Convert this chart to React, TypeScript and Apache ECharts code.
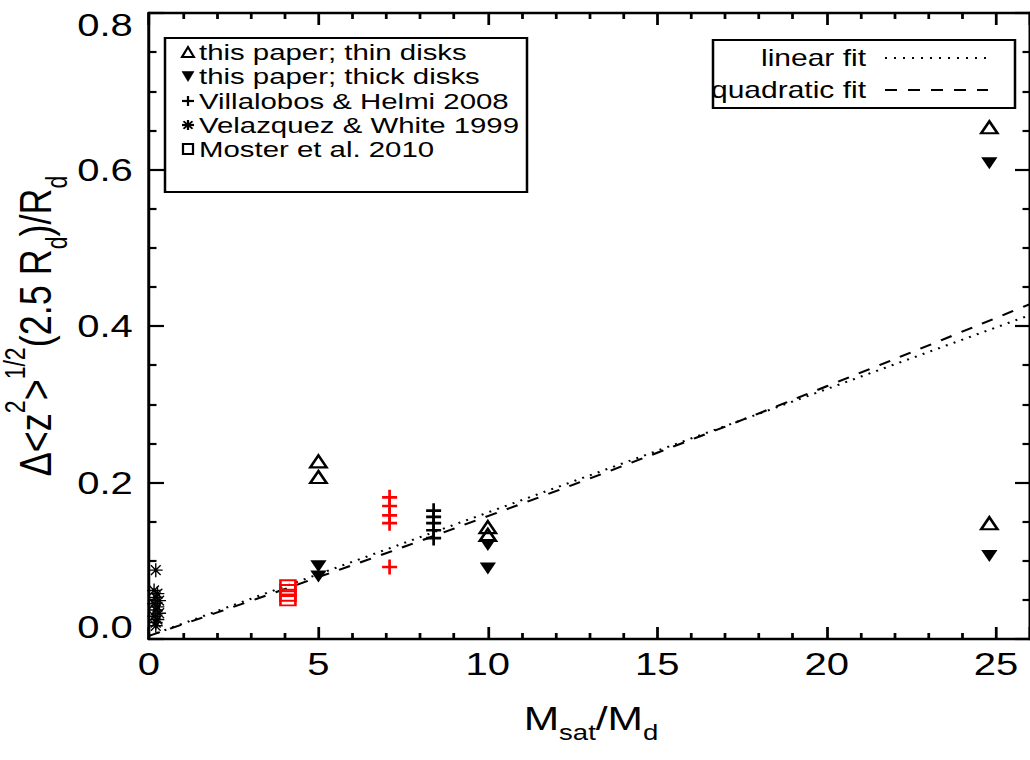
import React, { useEffect, useRef } from "react";
import * as echarts from "echarts";

// The reference picture is horizontally stretched; draw in an inner space and scale X.
const STRETCH = 1.25;
const CANVAS_W = 1030;
const CANVAS_H = 760;
const INNER_W = CANVAS_W / STRETCH;
const FONT = "'Liberation Sans', Arial, Helvetica, sans-serif";

// ---- data ----
const xTickValues = [0, 5, 10, 15, 20, 25];
const yTickValues = [0.0, 0.2, 0.4, 0.6, 0.8];

const thinDisksX = [5, 5, 10, 10, 24.8, 24.8];
const thinDisksY = [0.227, 0.207, 0.143, 0.133, 0.654, 0.148];

const thickDisksX = [5, 5, 10, 10, 24.8, 24.8];
const thickDisksY = [0.093, 0.08, 0.12, 0.09, 0.608, 0.106];

const villalobosRedX = [7.1, 7.1, 7.1, 7.1, 7.1];
const villalobosRedY = [0.181, 0.17, 0.158, 0.148, 0.092];

const villalobosBlackX = [8.4, 8.4, 8.4, 8.4, 8.4];
const villalobosBlackY = [0.164, 0.156, 0.148, 0.139, 0.129];

const velazquezX = [0.2, 0.15, 0.25, 0.2, 0.3, 0.15, 0.25, 0.2, 0.3, 0.15, 0.25, 0.2, 0.2];
const velazquezY = [0.088, 0.062, 0.058, 0.053, 0.049, 0.045, 0.041, 0.037, 0.033, 0.029, 0.025, 0.021, 0.017];

const mosterX = [4.1, 4.1, 4.1, 4.1];
const mosterY = [0.068, 0.062, 0.056, 0.05];

const linearFitX = [0, 26];
const linearFitY = [0.004, 0.414];

const quadFitX = [0, 5, 10, 15, 20, 26];
const quadFitY = [0.004, 0.079, 0.157, 0.238, 0.323, 0.428];

const pointLegend = [
  "this paper; thin disks",
  "this paper; thick disks",
  "Villalobos & Helmi 2008",
  "Velazquez & White 1999",
  "Moster et al. 2010",
];
const fitLegend = ["linear fit", "quadratic fit"];

const RED = "#ff0000";
const PLUS_PATH = "path://M0,4.1H10V5.9H0Z M4.1,0H5.9V10H4.1Z";
const STAR_PATH =
  "path://M0,9H20V11H0Z M9,0H11V20H9Z M3.64,2.22L17.78,16.36L16.36,17.78L2.22,3.64Z M17.78,3.64L3.64,17.78L2.22,16.36L16.36,2.22Z";

const zip = (xs: number[], ys: number[]) => xs.map((x, i) => [x, ys[i]]);

function legendSymbol(kind: number, cx: number, cy: number): any[] {
  const s = { stroke: "#000", lineWidth: 1.8 };
  const hw = 4.8;
  const hh = 5;
  switch (kind) {
    case 0:
      return [{ type: "polygon", shape: { points: [[cx - hw, cy + hh], [cx, cy - hh], [cx + hw, cy + hh]] }, style: { fill: "none", ...s } }];
    case 1:
      return [{ type: "polygon", shape: { points: [[cx - hw, cy - hh], [cx + hw, cy - hh], [cx, cy + hh]] }, style: { fill: "#000", stroke: "#000", lineWidth: 0.5 } }];
    case 2:
      return [
        { type: "line", shape: { x1: cx - hw, y1: cy, x2: cx + hw, y2: cy }, style: { ...s, lineWidth: 2.2 } },
        { type: "line", shape: { x1: cx, y1: cy - hh, x2: cx, y2: cy + hh }, style: s },
      ];
    case 3:
      return [
        { type: "line", shape: { x1: cx - hw, y1: cy, x2: cx + hw, y2: cy }, style: { ...s, lineWidth: 2.2 } },
        { type: "line", shape: { x1: cx, y1: cy - hh, x2: cx, y2: cy + hh }, style: s },
        { type: "line", shape: { x1: cx - hw * 0.75, y1: cy - hh * 0.75, x2: cx + hw * 0.75, y2: cy + hh * 0.75 }, style: s },
        { type: "line", shape: { x1: cx + hw * 0.75, y1: cy - hh * 0.75, x2: cx - hw * 0.75, y2: cy + hh * 0.75 }, style: s },
      ];
    default:
      return [{ type: "rect", shape: { x: cx - 4, y: cy - 5, width: 8, height: 10 }, style: { fill: "none", ...s } }];
  }
}

export default function App() {
  const ref = useRef<HTMLDivElement>(null);

  useEffect(() => {
    if (!ref.current) return;
    const chart = echarts.init(ref.current, null, { renderer: "svg" });

    const axisLineStyle = { color: "#000", width: 2.4 };
    const tickStyle = { color: "#000", width: 2.2 };

    const xAxisBase = {
      type: "value",
      min: 0,
      max: 26,
      interval: 5,
      axisLine: { show: true, onZero: false, lineStyle: axisLineStyle },
      axisTick: { show: true, inside: true, length: 12, lineStyle: tickStyle },
      minorTick: { show: true, splitNumber: 5, length: 6, lineStyle: tickStyle },
      splitLine: { show: false },
      minorSplitLine: { show: false },
    };
    const yAxisBase = {
      type: "value",
      min: 0,
      max: 0.8,
      interval: 0.2,
      axisLine: { show: true, onZero: false, lineStyle: axisLineStyle },
      axisTick: { show: true, inside: true, length: 12, lineStyle: tickStyle },
      minorTick: { show: true, splitNumber: 4, length: 6, lineStyle: tickStyle },
      splitLine: { show: false },
      minorSplitLine: { show: false },
    };

    const gridLeft = 149 / STRETCH;
    const gridRightEdge = 1034 / STRETCH;

    const graphic: any[] = [];
    // point legend box
    const b1x = 165 / STRETCH;
    const b1w = (527 - 165) / STRETCH;
    graphic.push({ type: "rect", shape: { x: b1x, y: 38, width: b1w, height: 154 }, style: { fill: "#fff", stroke: "#000", lineWidth: 2 }, z: 10 });
    const rows = [52, 76.5, 101, 125, 149];
    const legendFont = 21.5;
    pointLegend.forEach((label, i) => {
      legendSymbol(i, 188 / STRETCH, rows[i]).forEach((g) => graphic.push({ ...g, z: 11 }));
      graphic.push({
        type: "text",
        x: 199 / STRETCH,
        y: rows[i],
        scaleX: 23.5 / legendFont,
        z: 11,
        style: {
          text: label,
          fontSize: legendFont,
          fontFamily: FONT,
          fill: "#000",
          textAlign: "left",
          textVerticalAlign: "middle",
        },
      });
    });
    // fit legend box
    const b2x = 713 / STRETCH;
    const b2w = (1015 - 713) / STRETCH;
    graphic.push({ type: "rect", shape: { x: b2x, y: 40, width: b2w, height: 68 }, style: { fill: "#fff", stroke: "#000", lineWidth: 2 }, z: 10 });
    const fitRows = [58, 90];
    const fitDash = [[1.6, 5.6], [9.6, 8.8]];
    fitLegend.forEach((label, i) => {
      graphic.push({
        type: "text",
        x: 866 / STRETCH,
        y: fitRows[i],
        z: 11,
        style: {
          text: label,
          fontSize: 24,
          fontFamily: FONT,
          fill: "#000",
          textAlign: "right",
          textVerticalAlign: "middle",
        },
      });
      graphic.push({
        type: "line",
        z: 11,
        shape: { x1: 885 / STRETCH, y1: fitRows[i], x2: 988 / STRETCH, y2: fitRows[i] },
        style: { stroke: "#000", lineWidth: 2, lineDash: fitDash[i] },
      });
    });
    // axis titles
    graphic.push({
      type: "text",
      x: 36 / STRETCH,
      y: 326,
      rotation: Math.PI / 2,
      style: {
        text: "{m|\u0394<z}{sup|2}{m|>}{sup|1/2}{m|(2.5 R}{sub|d}{m|)/R}{sub|d}",
        textAlign: "center",
        textVerticalAlign: "middle",
        rich: {
          m: { fontSize: 36, fontFamily: FONT, fill: "#000", lineHeight: 56, verticalAlign: "middle" },
          sup: { fontSize: 23, fontFamily: FONT, fill: "#000", lineHeight: 24, verticalAlign: "top" },
          sub: { fontSize: 23, fontFamily: FONT, fill: "#000", lineHeight: 24, verticalAlign: "bottom" },
        },
      },
    });
    graphic.push({
      type: "text",
      x: 591 / STRETCH,
      y: 718,
      style: {
        text: "{m|M}{sub|sat}{m|/M}{sub|d}",
        textAlign: "center",
        textVerticalAlign: "middle",
        rich: {
          m: { fontSize: 34, fontFamily: FONT, fill: "#000", lineHeight: 50, verticalAlign: "middle" },
          sub: { fontSize: 22, fontFamily: FONT, fill: "#000", lineHeight: 24, verticalAlign: "bottom" },
        },
      },
    });

    chart.setOption({
      animation: false,
      backgroundColor: "#fff",
      grid: { left: gridLeft, right: INNER_W - gridRightEdge, top: 13, bottom: CANVAS_H - 639, containLabel: false },
      xAxis: [
        {
          ...xAxisBase,
          position: "bottom",
          axisLabel: {
            show: true,
            color: "#000",
            fontSize: 32,
            fontFamily: FONT,
            margin: 9,
            showMaxLabel: false,
            formatter: (v: number) => (xTickValues.includes(v) ? String(v) : ""),
          },
        },
        { ...xAxisBase, position: "top", axisLabel: { show: false } },
      ],
      yAxis: [
        {
          ...yAxisBase,
          position: "left",
          axisLabel: {
            show: true,
            color: "#000",
            fontSize: 32,
            lineHeight: 24,
            fontFamily: FONT,
            margin: 13,
            verticalAlignMinLabel: "bottom",
            verticalAlignMaxLabel: "top",
            formatter: (v: number) => {
              const t = yTickValues.find((y) => Math.abs(y - v) < 1e-6);
              return t === undefined ? "" : t.toFixed(1);
            },
          },
        },
        { ...yAxisBase, position: "right", axisLabel: { show: false } },
      ],
      graphic,
      series: [
        {
          name: "linear fit",
          type: "line",
          data: zip(linearFitX, linearFitY),
          showSymbol: false,
          symbol: "none",
          lineStyle: { color: "#000", width: 2, type: [1.6, 5.2] },
          z: 2,
        },
        {
          name: "quadratic fit",
          type: "line",
          data: zip(quadFitX, quadFitY),
          showSymbol: false,
          symbol: "none",
          smooth: true,
          lineStyle: { color: "#000", width: 2, type: [9.6, 8.8] },
          z: 2,
        },
        {
          name: pointLegend[0],
          type: "scatter",
          data: zip(thinDisksX, thinDisksY),
          symbol: "triangle",
          symbolSize: [13, 12],
          itemStyle: { color: "transparent", borderColor: "#000", borderWidth: 2.2, opacity: 1 },
          z: 3,
        },
        {
          name: pointLegend[1],
          type: "scatter",
          data: zip(thickDisksX, thickDisksY),
          symbol: "triangle",
          symbolRotate: 180,
          symbolSize: [13, 12],
          itemStyle: { color: "#000", opacity: 1 },
          z: 3,
        },
        {
          name: pointLegend[2] + " (red)",
          type: "scatter",
          data: zip(villalobosRedX, villalobosRedY),
          symbol: PLUS_PATH,
          symbolSize: [12, 15],
          itemStyle: { color: RED, opacity: 1 },
          z: 3,
        },
        {
          name: pointLegend[2],
          type: "scatter",
          data: zip(villalobosBlackX, villalobosBlackY),
          symbol: PLUS_PATH,
          symbolSize: [12, 15],
          itemStyle: { color: "#000", opacity: 1 },
          z: 3,
        },
        {
          name: pointLegend[3],
          type: "scatter",
          data: zip(velazquezX, velazquezY),
          symbol: STAR_PATH,
          symbolSize: [11, 14],
          itemStyle: { color: "#000", opacity: 1 },
          z: 3,
        },
        {
          name: pointLegend[4],
          type: "scatter",
          data: zip(mosterX, mosterY),
          symbol: "rect",
          symbolSize: [12, 11],
          itemStyle: { color: "transparent", borderColor: RED, borderWidth: 2, opacity: 1 },
          z: 3,
        },
      ],
    });
    return () => chart.dispose();
  }, []);

  return (
    <div
      style={{
        position: "fixed",
        left: 0,
        top: 0,
        width: CANVAS_W,
        height: CANVAS_H,
        overflow: "hidden",
        background: "#fff",
      }}
    >
      <div
        ref={ref}
        style={{
          width: INNER_W,
          height: CANVAS_H,
          transform: `scaleX(${STRETCH})`,
          transformOrigin: "0 0",
        }}
      />
    </div>
  );
}
